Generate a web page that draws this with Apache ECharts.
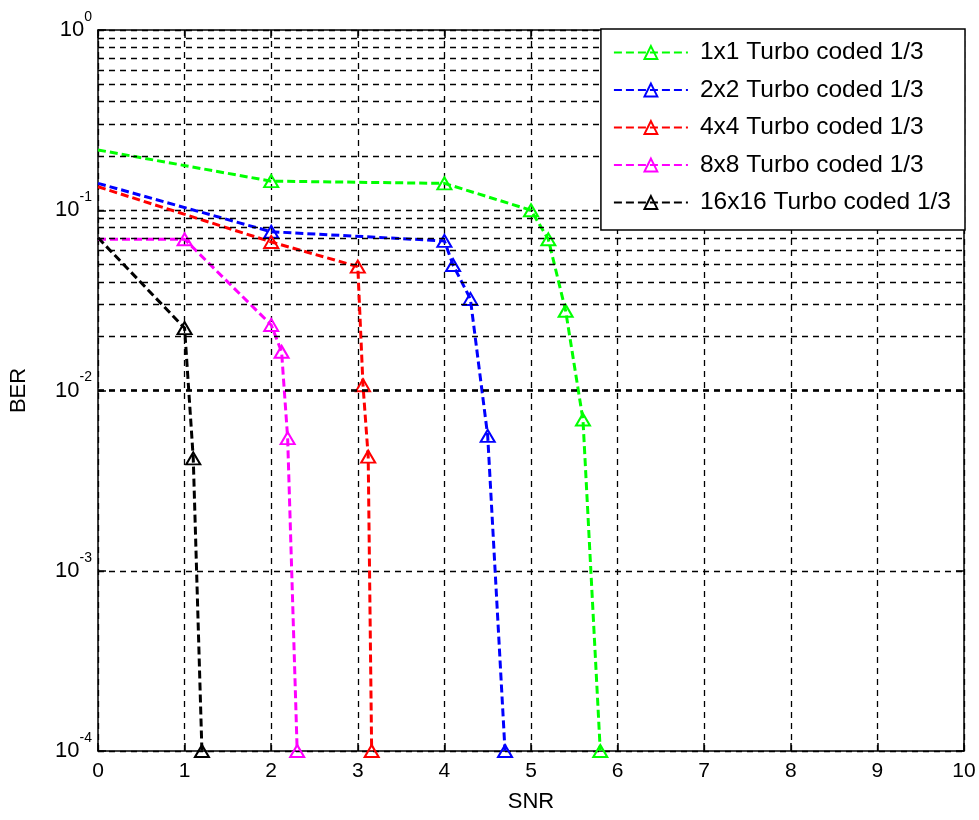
<!DOCTYPE html>
<html>
<head>
<meta charset="utf-8">
<script src="https://cdn.jsdelivr.net/npm/echarts@6/dist/echarts.min.js"></script>
<style>
  html, body { margin: 0; padding: 0; background: #fff; }
  #chart { width: 979px; height: 820px; }
</style>
</head>
<body>
<div id="chart"></div>
<script>
// BER vs SNR for turbo coded (rate 1/3) MIMO configurations
const seriesNames = [
  '1x1 Turbo coded 1/3',
  '2x2 Turbo coded 1/3',
  '4x4 Turbo coded 1/3',
  '8x8 Turbo coded 1/3',
  '16x16 Turbo coded 1/3'
];
const seriesColors = ['#00ff00', '#0000ff', '#ff0000', '#ff00ff', '#000000'];

const snr1x1 = [0, 2, 4, 5, 5.2, 5.4, 5.6, 5.8];
const ber1x1 = [0.216, 0.145, 0.141, 0.1, 0.069, 0.0277, 0.0069, 1e-4];

const snr2x2 = [0, 2, 4, 4.1, 4.3, 4.5, 4.7];
const ber2x2 = [0.141, 0.076, 0.0676, 0.0497, 0.0322, 0.0056, 1e-4];

const snr4x4 = [0, 2, 3, 3.06, 3.12, 3.16];
const ber4x4 = [0.135, 0.0667, 0.0487, 0.0107, 0.0043, 1e-4];

const snr8x8 = [0, 1, 2, 2.12, 2.19, 2.3];
const ber8x8 = [0.069, 0.069, 0.0231, 0.0164, 0.00544, 1e-4];

const snr16x16 = [0, 1, 1.1, 1.2];
const ber16x16 = [0.0704, 0.0222, 0.0042, 1e-4];

const snrList = [snr1x1, snr2x2, snr4x4, snr8x8, snr16x16];
const berList = [ber1x1, ber2x2, ber4x4, ber8x8, ber16x16];

// log-axis minor grid: mantissas 2..9 in each decade
const minorMantissas = [2, 3, 4, 5, 6, 7, 8, 9];
const minorDecades = [1e-4, 1e-3, 1e-2, 1e-1];
const minorGrid = [];
minorDecades.forEach(d => minorMantissas.forEach(m => minorGrid.push(m * d)));

const FONT = "'Liberation Sans', Arial, sans-serif";
const gridDash = { color: '#000', type: [6, 5], width: 1.3 };
const frameLine = { show: true, onZero: false, lineStyle: { color: '#000', width: 1.5 } };
const innerTick = { show: true, inside: true, length: 8, lineStyle: { color: '#000', width: 1.5 } };

const dataSeries = seriesNames.map((name, k) => ({
  name: name,
  type: 'line',
  z: 3,
  symbol: 'triangle',
  symbolSize: [14, 12],
  data: snrList[k].map((x, i) => ({
    value: [x, berList[k][i]],
    symbol: i === 0 ? 'none' : 'triangle'
  })),
  lineStyle: { color: seriesColors[k], width: 3, type: [8, 4] },
  itemStyle: { color: 'rgba(255,255,255,0)', borderColor: seriesColors[k], borderWidth: 2 },
  emphasis: { disabled: true },
  animation: false
}));

const minorGridSeries = {
  type: 'line',
  data: [],
  z: 1,
  silent: true,
  markLine: {
    silent: true,
    animation: false,
    symbol: ['none', 'none'],
    label: { show: false },
    lineStyle: gridDash,
    emphasis: { disabled: true },
    data: minorGrid.map(v => ({ yAxis: v }))
  }
};

const chart = echarts.init(document.getElementById('chart'), null, { renderer: 'canvas' });
chart.setOption({
  backgroundColor: '#fff',
  animation: false,
  grid: { left: 97, right: 15, top: 30, bottom: 69, containLabel: false },
  legend: {
    data: seriesNames,
    z: 20,
    orient: 'vertical',
    right: 14,
    top: 29,
    backgroundColor: '#fff',
    borderColor: '#000',
    borderWidth: 1.5,
    borderRadius: 0,
    padding: [11, 14, 15, 12],
    itemGap: 12.5,
    itemWidth: 74,
    itemHeight: 16,
    selectedMode: false,
    textStyle: { fontFamily: FONT, fontSize: 24.5, color: '#000', padding: [0, 0, 0, 7] }
  },
  xAxis: [
    {
      type: 'value', min: 0, max: 10, interval: 1, position: 'bottom',
      name: 'SNR', nameLocation: 'middle', nameGap: 40,
      nameTextStyle: { fontFamily: FONT, fontSize: 22, color: '#000' },
      axisLine: frameLine, axisTick: innerTick,
      axisLabel: { fontFamily: FONT, fontSize: 21, color: '#000', margin: 10 },
      splitLine: { show: true, lineStyle: gridDash }
    },
    {
      type: 'value', min: 0, max: 10, interval: 1, position: 'top',
      axisLine: frameLine, axisTick: innerTick,
      axisLabel: { show: false }, splitLine: { show: false }
    }
  ],
  yAxis: [
    {
      type: 'log', logBase: 10, min: 1e-4, max: 1, position: 'left',
      name: 'BER', nameLocation: 'middle', nameGap: 68,
      nameTextStyle: { fontFamily: FONT, fontSize: 22, color: '#000' },
      axisLine: frameLine, axisTick: innerTick,
      axisLabel: {
        margin: 6,
        formatter: v => '{b|10}{e|' + Math.round(Math.log10(v)) + '}',
        rich: {
          b: { fontFamily: FONT, fontSize: 22, color: '#000', lineHeight: 40 },
          e: { fontFamily: FONT, fontSize: 14, color: '#000', lineHeight: 15, verticalAlign: 'top' }
        }
      },
      splitLine: { show: true, lineStyle: gridDash }
    },
    {
      type: 'log', logBase: 10, min: 1e-4, max: 1, position: 'right',
      axisLine: frameLine, axisTick: innerTick,
      axisLabel: { show: false }, splitLine: { show: false }
    }
  ],
  series: [minorGridSeries].concat(dataSeries)
});
</script>
</body>
</html>
